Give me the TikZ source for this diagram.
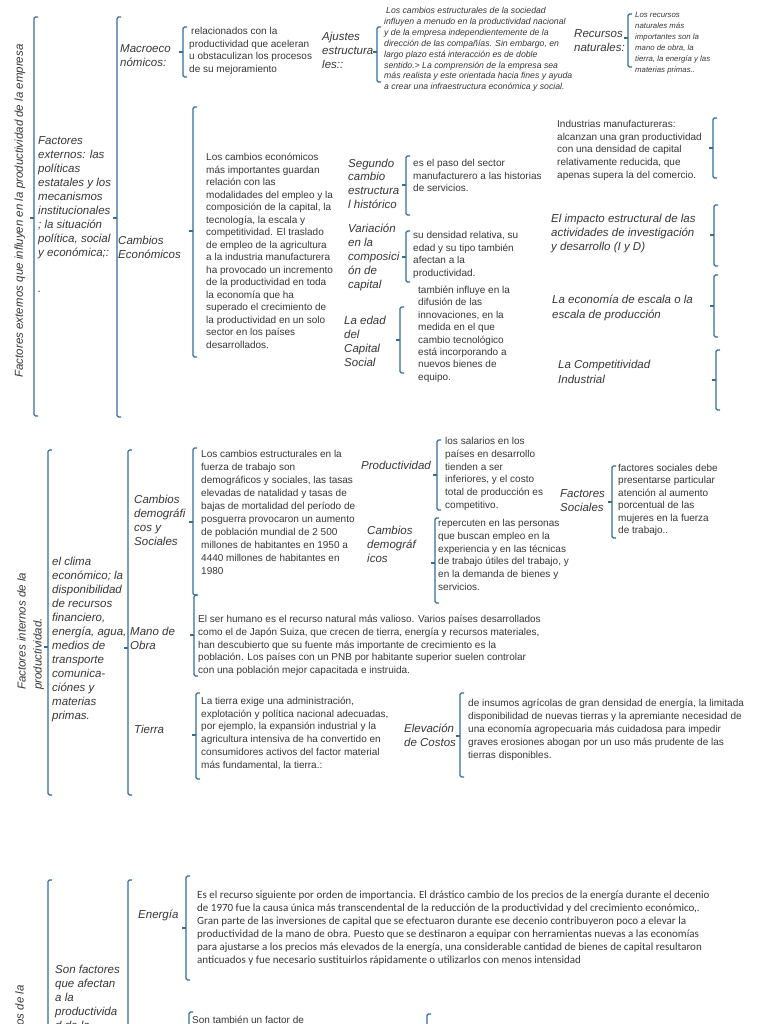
\documentclass[tikz,border=0pt]{standalone}
\usepackage{fontspec}
\setmainfont{Liberation Sans}
\newfontfamily\narrowfont{Carlito}
\definecolor{bcol}{RGB}{52,110,155}
\definecolor{tcol}{RGB}{55,55,55}
\newcommand\Brk[4]{%
  \draw[brk] ({#1+4},#2) -- (#1,#2) -- (#1,#3) -- ({#1+4},#3);
  \draw[brk,rounded corners=0pt] (#1,#4) -- ({#1-4},#4);}
\tikzset{
  brk/.style={draw=bcol, line width=1.1pt, rounded corners=1.5pt},
  base/.style={inner sep=0pt, anchor=north west, align=left, text=tcol},
  txt/.style={base, font=\fontsize{10}{12.7}\selectfont, yshift=5pt},
  lab/.style={base, font=\fontsize{11.5}{14}\selectfont\itshape, yshift=5.5pt},
  sml/.style={base, font=\fontsize{8}{10.7}\selectfont\itshape, yshift=4pt},
  nar/.style={base, font=\narrowfont\fontsize{11}{12.9}\selectfont, yshift=5pt},
}
\begin{document}
\begin{tikzpicture}[x=1pt,y=-1pt]
\useasboundingbox[fill=white] (0,0) rectangle (768,1024);
% ---------------- section 1
\node[text=tcol, font=\fontsize{11.5}{13}\selectfont\itshape, rotate=90, inner sep=0pt] (title1) at (20,211) {Factores externos que influyen en la productividad de la empresa};
\Brk{34}{17}{416}{218}
\node[lab] (ext) at (38,142) {Factores\\externos: las\\políticas\\estatales y los\\mecanismos\\institucionales\\; la situación\\política, social\\y económica;:};
\node[lab] (dot) at (38,297) {.};
\Brk{117}{17}{417}{218}
\node[lab] (macro) at (120,50) {Macroeco\\nómicos:};
\node[lab] (cambios) at (118,241) {Cambios\\Económicos};
\Brk{183}{27}{77}{52}
\node[txt] (rel) at (189,32) {\hspace{2pt}relacionados con la\\productividad que aceleran\\u obstaculizan los procesos\\de su mejoramiento};
\node[lab] (ajustes) at (322,37) {Ajustes\\estructura\\les::};
\Brk{377}{27}{82}{52}
\node[sml, font=\fontsize{8.7}{10.9}\selectfont\itshape] (ajtxt) at (384,11) {\hspace{2pt}Los cambios estructurales de la sociedad\\influyen a menudo en la productividad nacional\\y de la empresa independientemente de la\\dirección de las compañías. Sin embargo, en\\largo plazo está interacción es de doble\\sentido.> La comprensión de la empresa sea\\más realista y este orientada hacia fines y ayuda\\a crear una infraestructura económica y social.};
\node[lab] (recursos) at (574,35) {Recursos\\naturales:};
\Brk{628}{14}{67}{38}
\node[sml, font=\fontsize{7.8}{11}\selectfont\itshape] (rectxt) at (635,16) {Los recursos\\naturales más\\importantes son la\\mano de obra, la\\tierra, la energía y las\\materias primas..};
\Brk{193}{107}{357}{231}
\node[txt, font=\fontsize{10}{12.5}\selectfont] (ceco) at (206,158) {Los cambios económicos\\más importantes guardan\\relación con las\\modalidades del empleo y la\\composición de la capital, la\\tecnología, la escala y\\competitividad. El traslado\\de empleo de la agricultura\\a la industria manufacturera\\ha provocado un incremento\\de la productividad en toda\\la economía que ha\\superado el crecimiento de\\la productividad en un solo\\sector en los países\\desarrollados.};
\node[lab, font=\fontsize{11.5}{13.8}\selectfont\itshape] (seg) at (348,164) {Segundo\\cambio\\estructura\\l histórico};
\Brk{406}{156}{215}{185}
\node[txt] (segtxt) at (413,164) {es el paso del sector\\manufacturero a las historias\\de servicios.};
\node[lab] (var) at (348,229) {Variación\\en la\\composici\\ón de\\capital};
\Brk{406}{231}{282}{257}
\node[txt] (vartxt) at (413,236) {su densidad relativa, su\\edad y su tipo también\\afectan a la\\productividad.};
\node[lab] (edad) at (344,321) {La edad\\del\\Capital\\Social};
\Brk{400}{307}{373}{340}
\node[txt, font=\fontsize{10}{12.4}\selectfont] (edadtxt) at (418,291) {también influye en la\\difusión de las\\innovaciones, en la\\medida en el que\\cambio tecnológico\\está incorporando a\\nuevos bienes de\\equipo.};
\node[txt] (ind) at (557,125) {Industrias manufactureras:\\alcanzan una gran productividad\\con una densidad de capital\\relativamente reducida, que\\apenas supera la del comercio.};
\Brk{713}{118}{178}{148}
\node[lab] (imp) at (551,219) {El impacto estructural de las\\actividades de investigación\\y desarrollo (I y D)};
\Brk{714}{205}{266}{235}
\node[lab, font=\fontsize{11.5}{15}\selectfont\itshape] (esc) at (552,300) {La economía de escala o la\\escala de producción};
\Brk{714}{275}{337}{306}
\node[lab, font=\fontsize{11.5}{15}\selectfont\itshape] (comp) at (558,365) {La Competitividad\\Industrial};
\Brk{716}{350}{410}{380}
% ---------------- section 2
\node[text=tcol, font=\fontsize{11.5}{16}\selectfont\itshape, rotate=90, inner sep=0pt, anchor=north west, align=left] (title2) at (17,690) {Factores internos de la\\productividad.};
\Brk{48}{450}{795}{647}
\node[lab] (clima) at (52,562) {el clima\\económico; la\\disponibilidad\\de recursos\\financiero,\\energía, agua,\\medios de\\transporte\\comunica-\\ciónes y\\materias\\primas.};
\Brk{128}{450}{795}{648}
\node[lab] (cdem) at (134,500) {Cambios\\demográfi\\cos y\\Sociales};
\node[lab] (mano) at (130,632) {Mano de\\Obra};
\node[lab] (tierra) at (134,730) {Tierra};
\Brk{193}{448}{595}{522}
\node[txt, font=\fontsize{10}{13}\selectfont] (cdemtxt) at (201,455) {Los cambios estructurales en la\\fuerza de trabajo son\\demográficos y sociales, las tasas\\elevadas de natalidad y tasas de\\bajas de mortalidad del período de\\posguerra provocaron un aumento\\de población mundial de 2 500\\millones de habitantes en 1950 a\\4440 millones de habitantes en\\1980};
\node[lab] (prod) at (361,466) {Productividad};
\Brk{437}{440}{510}{475}
\node[txt, font=\fontsize{10}{12.8}\selectfont] (prodtxt) at (445,442) {los salarios en los\\países en desarrollo\\tienden a ser\\inferiores, y el costo\\total de producción es\\competitivo.};
\node[lab] (cdem2) at (367,531) {Cambios\\demográf\\icos};
\Brk{435}{518}{603}{563}
\node[txt, font=\fontsize{10}{12.8}\selectfont] (cdem2txt) at (438,524) {repercuten en las personas\\que buscan empleo en la\\experiencia y en las técnicas\\de trabajo útiles del trabajo, y\\en la demanda de bienes y\\servicios.};
\node[lab] (fsoc) at (560,495) {Factores\\Sociales};
\Brk{612}{466}{538}{502}
\node[txt, font=\fontsize{10}{12.4}\selectfont] (fsoctxt) at (618,469) {factores sociales debe\\presentarse particular\\atención al aumento\\porcentual de las\\mujeres en la fuerza\\de trabajo..};
\Brk{194}{595}{676}{635}
\node[txt, font=\fontsize{10}{12.8}\selectfont] (manotxt) at (198,620) {El ser humano es el recurso natural más valioso. Varios países desarrollados\\como el de Japón Suiza, que crecen de tierra, energía y recursos materiales,\\han descubierto que su fuente más importante de crecimiento es la\\población. Los países con un PNB por habitante superior suelen controlar\\con una población mejor capacitada e instruida.};
\Brk{196}{693}{779}{735}
\node[txt] (tierratxt) at (201,702) {La tierra exige una administración,\\explotación y política nacional adecuadas,\\por ejemplo, la expansión industrial y la\\agricultura intensiva de ha convertido en\\consumidores activos del factor material\\más fundamental, la tierra.:};
\node[lab] (elev) at (404,729) {Elevación\\de Costos};
\Brk{460}{693}{777}{736}
\node[txt, font=\fontsize{10}{13}\selectfont] (elevtxt) at (468,704) {de insumos agrícolas de gran densidad de energía, la limitada\\disponibilidad de nuevas tierras y la apremiante necesidad de\\una economía agropecuaria más cuidadosa para impedir\\graves erosiones abogan por un uso más prudente de las\\tierras disponibles.};
% ---------------- section 3
\node[text=tcol, font=\fontsize{11.5}{13}\selectfont\itshape, rotate=90, inner sep=0pt, anchor=south east] (title3) at (24,985) {os de la};
\Brk{48}{880}{1100}{1080}
\node[lab] (sonf) at (55,970) {Son factores\\que afectan\\a la\\productivida\\d de la};
\Brk{128}{880}{1100}{1080}
\node[lab] (energia) at (138,915) {Energía};
\Brk{186}{876}{980}{928}
\node[nar] (energiatxt) at (197,896) {Es el recurso siguiente por orden de importancia. El drástico cambio de los precios de la energía durante el decenio\\de 1970 fue la causa única más transcendental de la reducción de la productividad y del crecimiento económico,.\\Gran parte de las inversiones de capital que se efectuaron durante ese decenio contribuyeron poco a elevar la\\productividad de la mano de obra. Puesto que se destinaron a equipar con herramientas nuevas a las economías\\para ajustarse a los precios más elevados de la energía, una considerable cantidad de bienes de capital resultaron\\anticuados y fue necesario sustituirlos rápidamente o utilizarlos con menos intensidad};
\Brk{189}{1012}{1100}{1080}
\node[txt] (tamb) at (192,1021) {Son también un factor de};
\Brk{427}{1014}{1100}{1080}
\end{tikzpicture}
\end{document}
